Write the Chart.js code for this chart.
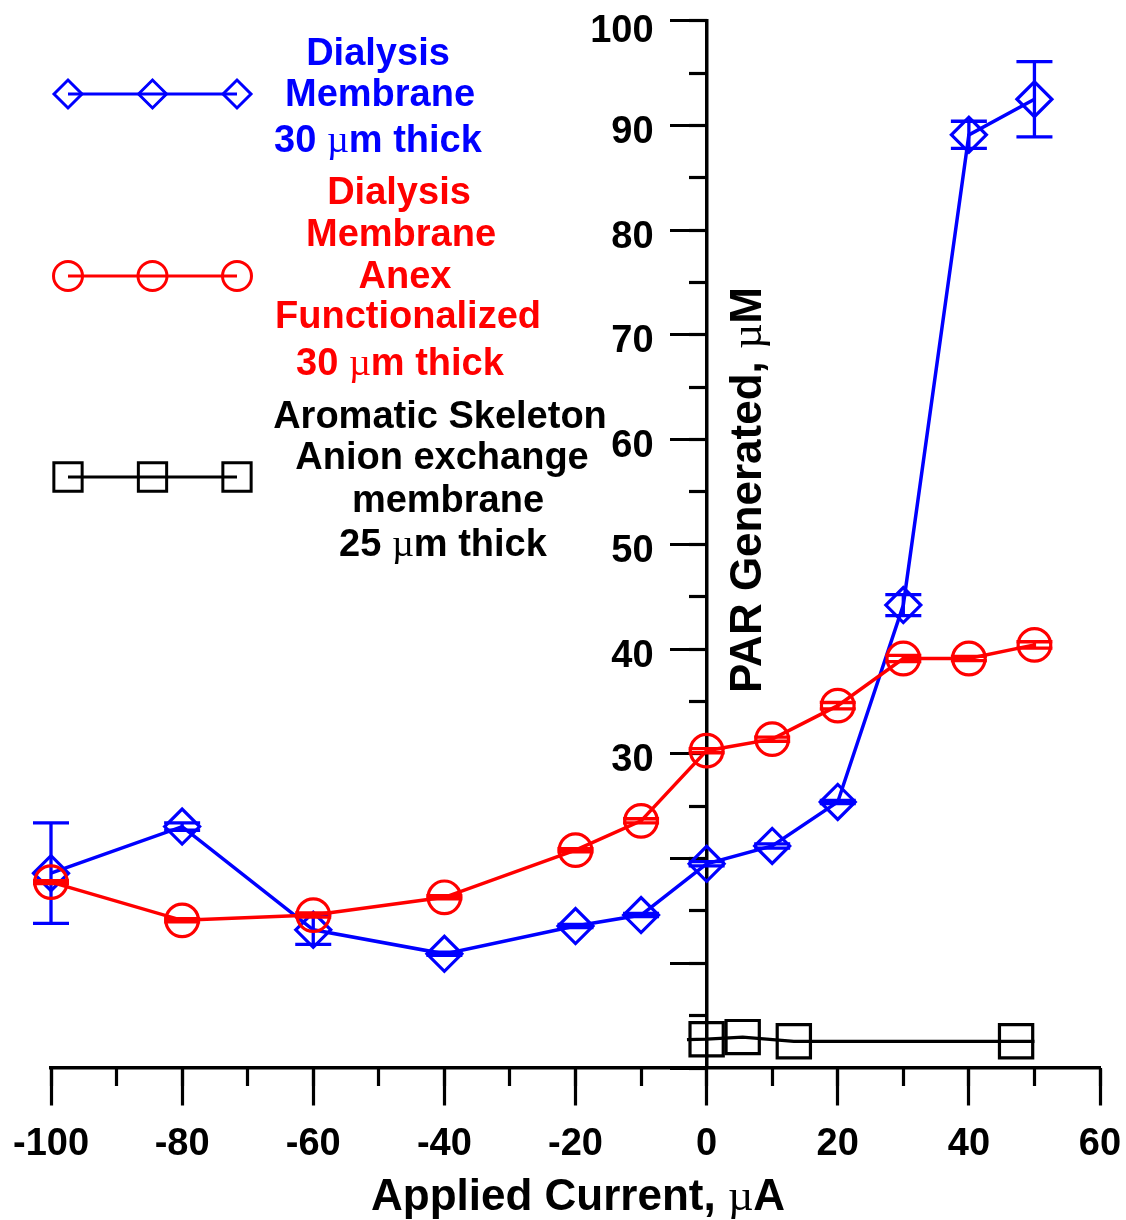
<!DOCTYPE html>
<html>
<head>
<meta charset="utf-8">
<title>PAR Generated vs Applied Current</title>
<script src="https://cdn.jsdelivr.net/npm/chart.js@4/dist/chart.umd.min.js"></script>
<style>
  html, body { margin: 0; padding: 0; background: #ffffff; }
  canvas { display: block; }
</style>
</head>
<body>
<canvas id="chart" width="1126" height="1220"></canvas>
<script>
// Applied current (µA) for the two dialysis-membrane series
const currents = [-100, -80, -60, -40, -20, -10, 0, 10, 20, 30, 40, 50];

// Dialysis membrane, 30 µm thick: PAR generated (µM) and its error
const dialysisPAR = [18.6, 23.05, 13.2, 10.9, 13.55, 14.6, 19.5, 21.2, 25.4, 44.2, 89.1, 92.5];
const dialysisErr = [4.8, 0.35, 1.4, 0.15, 0.15, 0.15, 0.2, 0.2, 0.15, 1.0, 1.3, 3.6];

// Anex-functionalized dialysis membrane, 30 µm thick
const anexPAR = [17.75, 14.1, 14.6, 16.3, 20.8, 23.6, 30.3, 31.4, 34.6, 39.1, 39.1, 40.4];
const anexErr = [0.15, 0.15, 0.2, 0.15, 0.15, 0.2, 0.2, 0.2, 0.3, 0.3, 0.2, 0.3];

// Aromatic skeleton anion exchange membrane, 25 µm thick (trace ends carry no marker)
const aromaticCurrents = [-3, 0, 5.5, 13.3, 47.2, 50];
const aromaticPAR = [2.7, 2.75, 2.95, 2.55, 2.55, 2.55];
const aromaticMarked = [false, true, true, true, true, false];

// Axis ticks
const xTickValues = [-100, -80, -60, -40, -20, 0, 20, 40, 60];
const yLabelledTicks = [30, 40, 50, 60, 70, 80, 90, 100];

// Legend text, one entry per series, one string per line
const legendLines = [
  ['Dialysis', 'Membrane', '30 µm thick'],
  ['Dialysis', 'Membrane', 'Anex', 'Functionalized', '30 µm thick'],
  ['Aromatic Skeleton', 'Anion exchange', 'membrane', '25 µm thick']
];

const SANS = "'Liberation Sans', Arial, Helvetica, sans-serif";
const SERIF = "'Liberation Serif', 'DejaVu Serif', 'Times New Roman', serif";
const BLUE = '#0000ff';
const RED = '#ff0000';
const BLACK = '#000000';

function pts(xs, ys) { return xs.map((x, i) => ({ x: x, y: ys[i] })); }

// Draw a line of text whose "µ" is set in a serif face, centred on cx, baseline at by
function richText(ctx, text, cx, by, size, color) {
  const parts = text.split(/(µ)/).filter(s => s.length);
  const fonts = parts.map(p => p === 'µ' ? `normal ${size}px ${SERIF}` : `bold ${size}px ${SANS}`);
  let total = 0;
  const widths = parts.map((p, i) => { ctx.font = fonts[i]; const w = ctx.measureText(p).width; total += w; return w; });
  let x = cx - total / 2;
  ctx.fillStyle = color;
  ctx.textAlign = 'left';
  ctx.textBaseline = 'alphabetic';
  parts.forEach((p, i) => { ctx.font = fonts[i]; ctx.fillText(p, x, by); x += widths[i]; });
}

// Vertical error bars with caps, drawn right after their own dataset
const errorBars = {
  id: 'errorBars',
  afterDatasetDraw(chart, args) {
    const ds = chart.data.datasets[args.index];
    if (!ds.errors) return;
    const xs = chart.scales.x, ys = chart.scales.y, ctx = chart.ctx;
    ctx.save();
    ctx.strokeStyle = ds.borderColor;
    ctx.lineWidth = 3.3;
    ctx.lineCap = 'butt';
    ds.data.forEach((p, i) => {
      const e = ds.errors[i];
      const px = xs.getPixelForValue(p.x);
      const pTop = ys.getPixelForValue(p.y + e);
      const pBot = ys.getPixelForValue(p.y - e);
      ctx.beginPath();
      ctx.moveTo(px, pTop); ctx.lineTo(px, pBot);
      ctx.moveTo(px - 18, pTop); ctx.lineTo(px + 18, pTop);
      ctx.moveTo(px - 18, pBot); ctx.lineTo(px + 18, pBot);
      ctx.stroke();
    });
    ctx.restore();
  }
};

// Y tick labels (left of the axis drawn at x = 0), axis titles and the legend block
const annotations = {
  id: 'annotations',
  afterDraw(chart) {
    const ctx = chart.ctx;
    const ys = chart.scales.y, xs = chart.scales.x;
    ctx.save();

    // y tick labels, right-aligned left of the tick marks
    const axisX = xs.getPixelForValue(0);
    ctx.font = `bold 38px ${SANS}`;
    ctx.fillStyle = BLACK;
    ctx.textAlign = 'right';
    ctx.textBaseline = 'alphabetic';
    ys.ticks.forEach(t => {
      if (!yLabelledTicks.includes(t.value)) return;
      const cy = Math.max(ys.getPixelForValue(t.value) + 4, 28);
      ctx.fillText(String(t.value), axisX - 53, cy + 13.6);
    });

    // x-axis title
    richText(ctx, 'Applied Current, µA', 578, 1210, 44, BLACK);
    // y-axis title, reading upwards, right of the axis line
    ctx.save();
    ctx.translate(745, 490);
    ctx.rotate(-Math.PI / 2);
    richText(ctx, 'PAR Generated, µM', 0, 15.5, 44, BLACK);
    ctx.restore();

    // legend samples
    const rows = [
      { y: 94, color: BLUE, style: 'rectRot', radius: 14 },
      { y: 276, color: RED, style: 'circle', radius: 14.5 },
      { y: 477, color: BLACK, style: 'rect', radius: 20 }
    ];
    const sx = [68, 152.5, 237];
    rows.forEach(r => {
      ctx.strokeStyle = r.color;
      ctx.lineWidth = 3;
      ctx.beginPath();
      ctx.moveTo(sx[0], r.y); ctx.lineTo(sx[2], r.y);
      ctx.stroke();
      ctx.fillStyle = 'rgba(0,0,0,0)';
      sx.forEach(x => {
        Chart.helpers.drawPoint(ctx, { pointStyle: r.style, radius: r.radius, borderWidth: 2.8, rotation: 0 }, x, r.y);
      });
    });

    // legend labels: [centre x, cap-centre y] per line
    const textPos = [
      [[378, 51], [380, 92], [378, 138]],
      [[399, 190], [401, 232], [405, 274], [408, 314], [400, 361]],
      [[440, 414], [442, 455], [448, 498], [443, 542]]
    ];
    const colors = [BLUE, RED, BLACK];
    legendLines.forEach((lines, s) => {
      lines.forEach((t, k) => {
        const [cx, cy] = textPos[s][k];
        richText(ctx, t, cx, cy + 13.6, 38, colors[s]);
      });
    });
    ctx.restore();
  }
};

const xTickFont = { family: SANS, size: 38, weight: 'bold', lineHeight: 1.9 };

new Chart(document.getElementById('chart'), {
  type: 'line',
  data: {
    datasets: [
      {
        label: legendLines[0].join(' '),
        data: pts(currents, dialysisPAR),
        errors: dialysisErr,
        borderColor: BLUE,
        backgroundColor: 'rgba(0,0,0,0)',
        pointBackgroundColor: 'rgba(0,0,0,0)',
        pointBorderColor: BLUE,
        pointStyle: 'rectRot',
        pointRadius: 17.5,
        pointBorderWidth: 3.2,
        borderWidth: 3.5,
        tension: 0,
        clip: false,
        order: 3
      },
      {
        label: legendLines[1].join(' '),
        data: pts(currents, anexPAR),
        errors: anexErr,
        borderColor: RED,
        backgroundColor: 'rgba(0,0,0,0)',
        pointBackgroundColor: 'rgba(0,0,0,0)',
        pointBorderColor: RED,
        pointStyle: 'circle',
        pointRadius: 16.3,
        pointBorderWidth: 3.2,
        borderWidth: 3.5,
        tension: 0,
        clip: false,
        order: 2
      },
      {
        label: legendLines[2].join(' '),
        data: pts(aromaticCurrents, aromaticPAR),
        borderColor: BLACK,
        backgroundColor: 'rgba(0,0,0,0)',
        pointBackgroundColor: 'rgba(0,0,0,0)',
        pointBorderColor: BLACK,
        pointStyle: 'rect',
        pointRadius: aromaticMarked.map(m => m ? 23.5 : 0),
        pointBorderWidth: 3.2,
        borderWidth: 3.3,
        tension: 0,
        clip: false,
        order: 1
      }
    ]
  },
  options: {
    responsive: false,
    animation: false,
    devicePixelRatio: 1,
    layout: { padding: { left: 51, right: 26, top: 18, bottom: 152 } },
    plugins: { legend: { display: false }, tooltip: { enabled: false } },
    scales: {
      x: {
        type: 'linear',
        position: { y: 0 },
        min: -100, max: 60,
        afterBuildTicks(scale) { scale.ticks = xTickValues.map(v => ({ value: v })); },
        ticks: { autoSkip: false, maxRotation: 0, color: BLACK, padding: 4, font: xTickFont },
        grid: { drawOnChartArea: false, tickLength: 36, tickWidth: 3.2, tickColor: BLACK },
        border: { display: true, width: 3.5, color: BLACK }
      },
      xMinor: {
        type: 'linear',
        axis: 'x',
        position: { y: 0 },
        min: -100, max: 60,
        ticks: { stepSize: 10, display: false, autoSkip: false },
        grid: { drawOnChartArea: false, tickLength: 18, tickWidth: 3.2, tickColor: BLACK },
        border: { display: false }
      },
      y: {
        type: 'linear',
        position: { x: 0 },
        min: 0, max: 100,
        ticks: { stepSize: 10, autoSkip: false, display: false },
        grid: { drawOnChartArea: false, tickLength: 35, tickWidth: 3.2, tickColor: BLACK },
        border: { display: true, width: 3.5, color: BLACK }
      },
      yMinor: {
        type: 'linear',
        axis: 'y',
        position: { x: 0 },
        min: 0, max: 100,
        ticks: { stepSize: 5, display: false, autoSkip: false },
        grid: { drawOnChartArea: false, tickLength: 18, tickWidth: 3.2, tickColor: BLACK },
        border: { display: false }
      }
    }
  },
  plugins: [errorBars, annotations]
});
</script>
</body>
</html>
